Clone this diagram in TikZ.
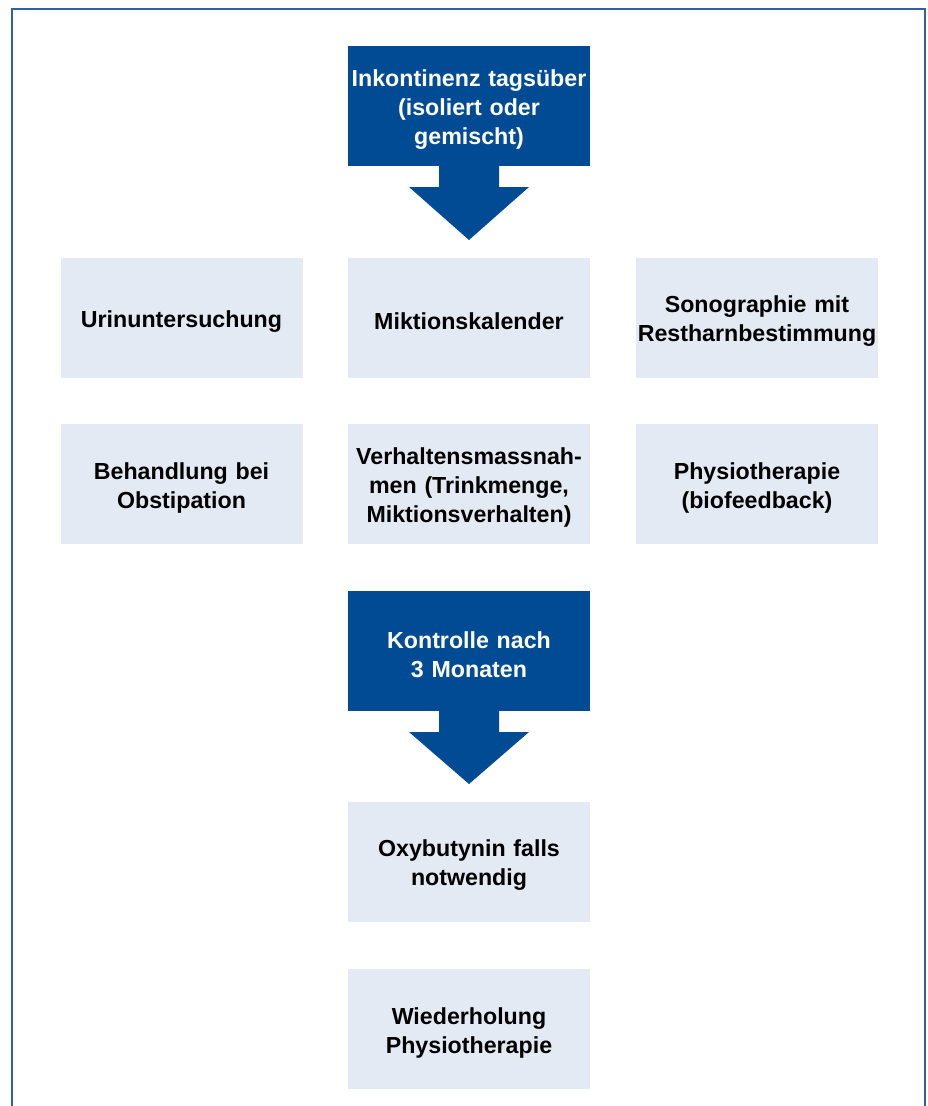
\documentclass[tikz,border=0pt]{standalone}
\usepackage{fontspec}
\setmainfont{Liberation Sans}
\definecolor{darkblue}{HTML}{004B93}
\definecolor{lightbox}{HTML}{E4EAF3}
\definecolor{framecol}{HTML}{2C62AC}
\begin{document}
\begin{tikzpicture}[x=1pt,y=-1pt,
  box/.style={minimum width=242pt,minimum height=120pt,inner sep=0pt},
  lightb/.style={box,fill=lightbox},
  darkb/.style={box,fill=darkblue},
  txt/.style={inner sep=0pt,align=center,text width=250pt,
    font=\fontsize{23.2}{29}\selectfont\bfseries},
  lighttxt/.style={txt,text=black},
  darktxt/.style={txt,text=white},
  bigarrow/.style={fill=darkblue,draw=none}]
\useasboundingbox (0,0) rectangle (928,1106);
\fill[white] (0,0) rectangle (928,1106);
\draw[framecol,line width=2pt] (12,1106) -- (12,9) -- (925,9) -- (925,1106);

\node[darkb] (top) at (469,106) {};
\node[lightb] (urin) at (181.5,318) {};
\node[lightb] (mikt) at (469,318) {};
\node[lightb] (sono) at (757,318) {};
\node[lightb] (obst) at (181.5,484) {};
\node[lightb] (verh) at (469,484) {};
\node[lightb] (phys) at (757,484) {};
\node[darkb] (kontr) at (469,651) {};
\node[lightb] (oxy) at (469,862) {};
\node[lightb] (wied) at (469,1029) {};

\node[darktxt] (topt) at ([yshift=-3.5pt]top.center) {Inkontinenz tagsüber\\(isoliert oder\\gemischt)};
\node[lighttxt] (urint) at ([yshift=-3.5pt]urin.center) {Urinuntersuchung};
\node[lighttxt] (miktt) at ([yshift=-3.5pt]mikt.center) {Miktionskalender};
\node[lighttxt] (sonot) at ([yshift=-3.5pt]sono.center) {Sonographie mit\\Restharnbestimmung};
\node[lighttxt] (obstt) at ([yshift=-3.5pt]obst.center) {Behandlung bei\\Obstipation};
\node[lighttxt] (verht) at ([yshift=-3.5pt]verh.center) {Verhaltensmassnah-\\men (Trinkmenge,\\Miktionsverhalten)};
\node[lighttxt] (physt) at ([yshift=-3.5pt]phys.center) {Physiotherapie\\(biofeedback)};
\node[darktxt] (kontrt) at ([yshift=-3.5pt]kontr.center) {Kontrolle nach\\3 Monaten};
\node[lighttxt] (oxyt) at ([yshift=-3.5pt]oxy.center) {Oxybutynin falls\\notwendig};
\node[lighttxt] (wiedt) at ([yshift=-3.5pt]wied.center) {Wiederholung\\Physiotherapie};

\coordinate (tip1) at (469,240);
\fill[bigarrow] ([xshift=-30pt]top.south) -- ([xshift=-30pt]top.south |- 0,187) -- ([xshift=-60pt]top.south |- 0,187)
  -- (tip1) -- ([xshift=60pt]top.south |- 0,187) -- ([xshift=30pt]top.south |- 0,187) -- ([xshift=30pt]top.south) -- cycle;
\coordinate (tip2) at (469,784);
\fill[bigarrow] ([xshift=-30pt]kontr.south) -- ([xshift=-30pt]kontr.south |- 0,732) -- ([xshift=-60pt]kontr.south |- 0,732)
  -- (tip2) -- ([xshift=60pt]kontr.south |- 0,732) -- ([xshift=30pt]kontr.south |- 0,732) -- ([xshift=30pt]kontr.south) -- cycle;
\end{tikzpicture}
\end{document}
